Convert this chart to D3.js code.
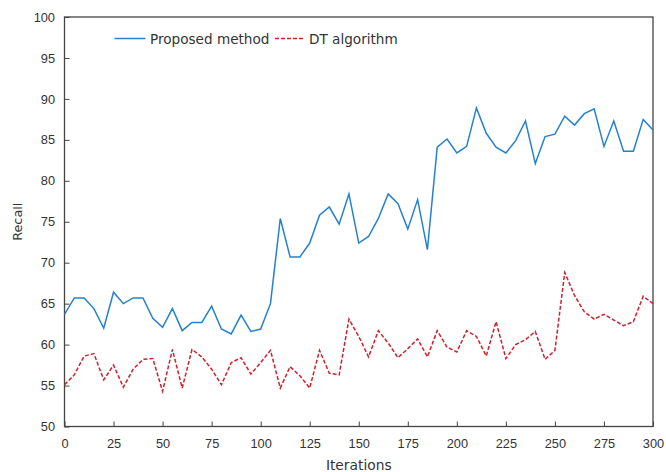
<!DOCTYPE html>
<html>
<head>
<meta charset="utf-8">
<script src="https://cdn.jsdelivr.net/npm/d3@7"></script>
<style>
  body { margin: 0; background: #fff; }
  svg { display: block; font-family: "DejaVu Sans", Verdana, sans-serif; }
</style>
</head>
<body>
<script>
// iterations sampled every 5 steps
const iterations = d3.range(0, 301, 5)

const proposed = [
    63.7, 65.7, 65.7, 64.4, 62.0, 66.4, 65.0, 65.7, 65.7, 63.2,
    62.1, 64.4, 61.7, 62.7, 62.7, 64.7, 61.9, 61.3, 63.6, 61.6,
    61.9, 65.0, 75.4, 70.7, 70.7, 72.4, 75.8, 76.8, 74.7, 78.4,
    72.4, 73.2, 75.4, 78.4, 77.2, 74.1, 77.7, 71.6, 84.1, 85.1,
    83.4, 84.2, 88.9, 85.8, 84.1, 83.4, 84.9, 87.3, 82.1, 85.4,
    85.7, 87.9, 86.8, 88.2, 88.8, 84.2, 87.3, 83.6, 83.6, 87.5,
    86.2
]

const dtAlgorithm = [
    55.1, 56.3, 58.6, 58.9, 55.7, 57.5, 54.8, 57.0, 58.2, 58.3,
    54.3, 59.4, 54.7, 59.4, 58.5, 57.0, 55.1, 57.8, 58.4, 56.4,
    57.8, 59.3, 54.7, 57.3, 56.2, 54.7, 59.3, 56.5, 56.3, 63.1,
    61.0, 58.5, 61.7, 60.2, 58.4, 59.5, 60.7, 58.5, 61.7, 59.7,
    59.1, 61.7, 61.0, 58.6, 62.8, 58.3, 60.0, 60.6, 61.6, 58.2,
    59.3, 68.8, 66.0, 64.0, 63.1, 63.7, 63.0, 62.3, 62.8, 65.9,
    65.0
]

const xTicks = d3.range(0, 301, 25)
const yTicks = d3.range(50, 101, 5)

const width = 666, height = 472
const margin = {top: 17, right: 13, bottom: 45.5, left: 64.5}

const x = d3.scaleLinear().domain([0, 300]).range([margin.left, width - margin.right])
const y = d3.scaleLinear().domain([50, 100]).range([height - margin.bottom, margin.top])

const svg = d3.select('body').append('svg')
    .attr('width', width)
    .attr('height', height)

const textColor = '#333'
const axisColor = '#444'

// bottom axis, ticks point inwards
const xAxis = svg.append('g')
    .attr('transform', `translate(0,${y(50)})`)
    .call(d3.axisBottom(x).tickValues(xTicks).tickSizeInner(-5).tickSizeOuter(0).tickPadding(12))
xAxis.select('.domain').remove()
xAxis.selectAll('line').attr('stroke', axisColor)
xAxis.selectAll('text').attr('fill', textColor).style('font-size', '12.8px')

const yAxis = svg.append('g')
    .attr('transform', `translate(${x(0)},0)`)
    .call(d3.axisLeft(y).tickValues(yTicks).tickSizeInner(-5).tickSizeOuter(0).tickPadding(9.5))
yAxis.select('.domain').remove()
yAxis.selectAll('line').attr('stroke', axisColor)
yAxis.selectAll('text').attr('fill', textColor).style('font-size', '12.8px')

// frame
svg.append('rect')
    .attr('x', x(0))
    .attr('y', y(100))
    .attr('width', x(300) - x(0))
    .attr('height', y(50) - y(100))
    .attr('fill', 'none')
    .attr('stroke', axisColor)
    .attr('stroke-width', 1.3)

// axis titles
svg.append('text')
    .attr('x', (x(0) + x(300)) / 2)
    .attr('y', 470)
    .attr('text-anchor', 'middle')
    .attr('fill', textColor)
    .style('font-size', '13.8px')
    .text('Iterations')

svg.append('text')
    .attr('transform', `translate(22,${(y(50) + y(100)) / 2}) rotate(-90)`)
    .attr('text-anchor', 'middle')
    .attr('fill', textColor)
    .style('font-size', '12.8px')
    .text('Recall')

const line = d3.line()
    .x((d, i) => x(iterations[i]))
    .y(d => y(d))

const blue = '#2581d0'
const red = '#d0202c'

svg.append('path')
    .datum(dtAlgorithm)
    .attr('fill', 'none')
    .attr('stroke', red)
    .attr('stroke-width', 1.5)
    .attr('stroke-dasharray', '4,2')
    .attr('d', line)

svg.append('path')
    .datum(proposed)
    .attr('fill', 'none')
    .attr('stroke', blue)
    .attr('stroke-width', 1.5)
    .attr('d', line)

// legend
const legend = [
    {name: 'Proposed method', color: blue, dash: null, x: 114.5, len: 31},
    {name: 'DT algorithm', color: red, dash: '4,2', x: 275, len: 29.5},
]
const lg = svg.append('g').selectAll('g')
    .data(legend)
    .join('g')
    .attr('transform', d => `translate(${d.x},38.5)`)
lg.append('line')
    .attr('x1', 0).attr('x2', d => d.len)
    .attr('stroke', d => d.color)
    .attr('stroke-width', 1.5)
    .attr('stroke-dasharray', d => d.dash)
lg.append('text')
    .attr('x', d => d.len + 4.5)
    .attr('y', 5)
    .attr('fill', textColor)
    .style('font-size', '13.6px')
    .text(d => d.name)
</script>
</body>
</html>
